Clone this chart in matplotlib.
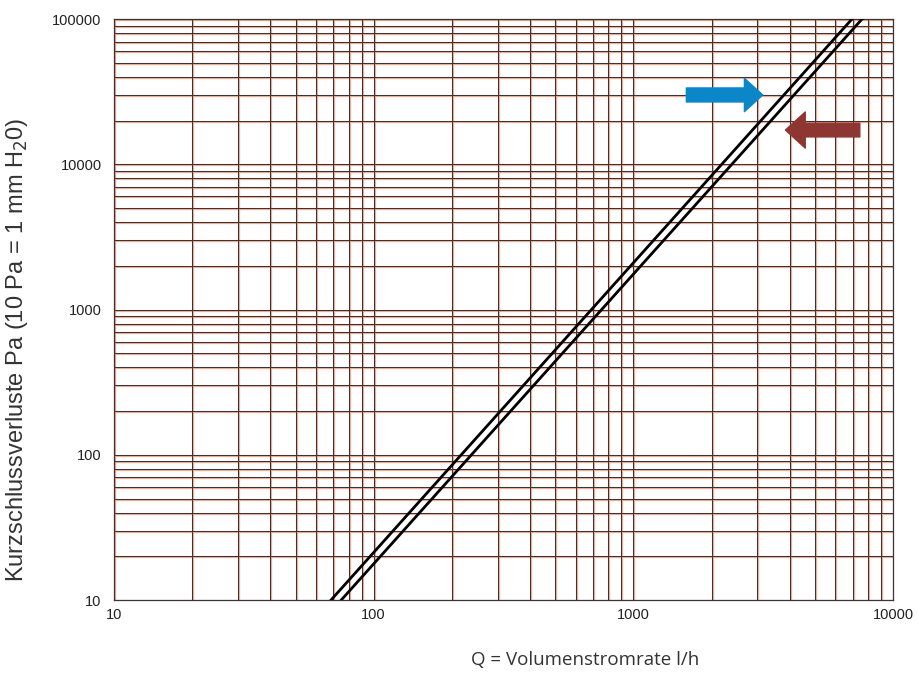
import matplotlib.pyplot as plt
from matplotlib.transforms import ScaledTranslation

# pressure drop lines (two curves)
q_line1 = [68.5, 6950]
dp_line1 = [10, 100000]
q_line2 = [75, 7600]
dp_line2 = [10, 100000]

x_ticks = [10, 100, 1000, 10000]
y_ticks = [10, 100, 1000, 10000, 100000]

# arrows: (tail x, head x, y)
blue_arrow = [1600, 3150, 30000]
red_arrow = [7450, 3850, 17200]

fig = plt.figure(figsize=(9.18, 6.79), dpi=100)
ax = fig.add_axes([0.1242, 0.1163, 0.8486, 0.8557])
ax.set_xscale("log")
ax.set_yscale("log")
ax.set_xlim(10, 10000)
ax.set_ylim(10, 100000)

# grid lines at every 1..9 x decade, drawn twice to get the printed look
xg = [k * 10 ** d for d in range(1, 4) for k in range(1, 10)] + [10000]
yg = [k * 10 ** d for d in range(1, 5) for k in range(1, 10)] + [100000]
shift = ScaledTranslation(1 / 100, -1 / 100, fig.dpi_scale_trans)
ax.vlines(xg, 0, 1, transform=ax.get_xaxis_transform() + shift,
          color="#f2ae94", lw=0.9, zorder=1)
ax.hlines(yg, 0, 1, transform=ax.get_yaxis_transform() + shift,
          color="#f2ae94", lw=0.9, zorder=1)
ax.vlines(xg, 0, 1, transform=ax.get_xaxis_transform(),
          color="#3c3434", lw=0.75, zorder=2)
ax.hlines(yg, 0, 1, transform=ax.get_yaxis_transform(),
          color="#3c3434", lw=0.75, zorder=2)

ax.plot(q_line1, dp_line1, color="black", lw=2.0, zorder=3)
ax.plot(q_line2, dp_line2, color="black", lw=2.0, zorder=3)

ax.annotate("", xy=(blue_arrow[1], blue_arrow[2]), xytext=(blue_arrow[0], blue_arrow[2]),
            arrowprops=dict(arrowstyle="simple,head_length=0.55,head_width=1.0,tail_width=0.42",
                            mutation_scale=24, color="#0a86c9", shrinkA=0, shrinkB=0),
            zorder=4)
ax.annotate("", xy=(red_arrow[1], red_arrow[2]), xytext=(red_arrow[0], red_arrow[2]),
            arrowprops=dict(arrowstyle="simple,head_length=0.55,head_width=1.0,tail_width=0.38",
                            mutation_scale=26, color="#8e3632", shrinkA=0, shrinkB=0),
            zorder=4)

for s in ax.spines.values():
    s.set_color("#3c3434")
    s.set_linewidth(0.9)

ax.set_xticks(x_ticks)
ax.set_xticklabels([str(v) for v in x_ticks], fontsize=10.5, family="Liberation Sans")
ax.set_yticks(y_ticks)
ax.set_yticklabels([str(v) for v in y_ticks], fontsize=10.5, family="Liberation Sans")
ax.minorticks_off()
ax.tick_params(length=0, pad=6, colors="#222222")
ax.tick_params(axis="y", pad=9)

fig.text(585 / 918, 1 - 660 / 679, "Q = Volumenstromrate l/h", fontsize=13.5,
         family="Open Sans", color="#333333", ha="center", va="center")
fig.text(17 / 918, 1 - 350 / 679, "Kurzschlussverluste Pa (10 Pa = 1 mm H$_2$0)",
         fontsize=17, family="Liberation Sans", color="#333333",
         rotation=90, ha="center", va="center")

plt.savefig("out.png", dpi=100)
